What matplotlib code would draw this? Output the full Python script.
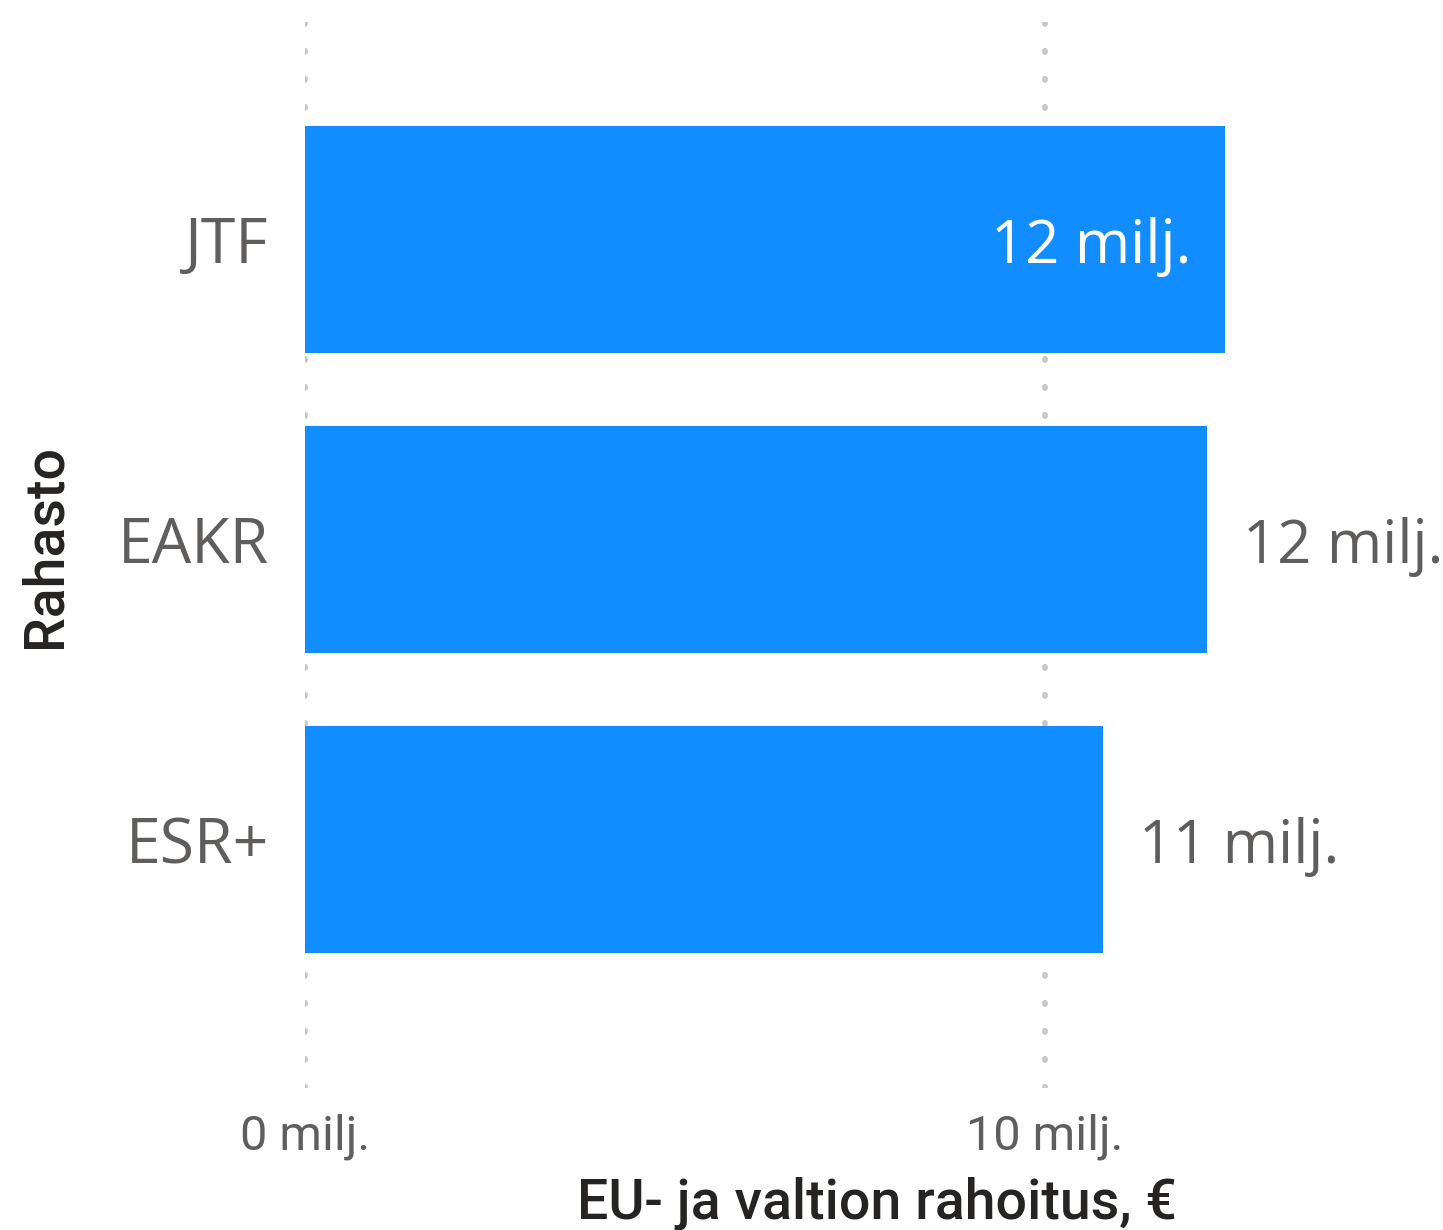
import matplotlib
matplotlib.use("Agg")
import matplotlib.pyplot as plt
from matplotlib import font_manager

categories = ["JTF", "EAKR", "ESR+"]
values = [12.43, 12.19, 10.78]          # milj. €
xticks = [0, 10]
xtick_labels = ["0 milj.", "10 milj."]
inside_label = [True, False, False]

W, H = 1443, 1230
DPI = 100
fig = plt.figure(figsize=(W / DPI, H / DPI), dpi=DPI)
fig.patch.set_facecolor("white")

ax = fig.add_axes([305 / W, (H - 1088) / H, (1440 - 305) / W, (1088 - 22) / H])
ax.set_facecolor("white")

names = {f.name for f in font_manager.fontManager.ttflist}
cat_font = "Open Sans" if "Open Sans" in names else "DejaVu Sans"
tick_font = "Roboto"
title_font = "Roboto"

ypos = list(range(len(categories)))
ax.barh(ypos, values, height=0.757, color="#118DFF", zorder=2)

ax.set_xlim(0, 1135 / 74)
ax.set_ylim(2.828, -0.725)

# gridlines
for xt in xticks:
    ax.axvline(xt, color="#c8c8c8", linestyle=(0, (0.2, 4.6)), linewidth=4.2,
               dash_capstyle="round", zorder=1)

ax.set_xticks(xticks)
ax.set_xticklabels(xtick_labels, fontsize=35, color="#605E5C", family=[tick_font, "DejaVu Sans"])
ax.set_yticks(ypos)
ax.set_yticklabels(categories, fontsize=45, color="#605E5C", family=[cat_font, "DejaVu Sans"])
ax.tick_params(axis="both", length=0)
ax.tick_params(axis="y", pad=26)
ax.tick_params(axis="x", pad=18)
for s in ax.spines.values():
    s.set_visible(False)

# data labels
px = 0.72  # points per pixel at dpi 100
for y, v, inside in zip(ypos, values, inside_label):
    txt = f"{round(v)} milj."
    if inside:
        ax.annotate(txt, (v, y), xytext=(-33 * px, -23.5 * px), textcoords="offset points",
                    ha="right", va="baseline", fontsize=43, color="white",
                    family=[cat_font, "DejaVu Sans"], zorder=3)
    else:
        ax.annotate(txt, (v, y), xytext=(36 * px, -23.5 * px), textcoords="offset points",
                    ha="left", va="baseline", fontsize=43, color="#605E5C",
                    family=[cat_font, "DejaVu Sans"], zorder=3, annotation_clip=False)

fig.text(877 / W, (H - 1219) / H, "EU- ja valtion rahoitus, €", ha="center", va="baseline",
         fontsize=40, color="#252423", family=[title_font, "DejaVu Sans"], fontweight="medium")
fig.text(45 / W, (H - 546) / H, "Rahasto", rotation=90, ha="center", va="center",
         fontsize=40, color="#252423", family=[title_font, "DejaVu Sans"], fontweight="medium")

fig.savefig("out.png", dpi=DPI, facecolor="white")
